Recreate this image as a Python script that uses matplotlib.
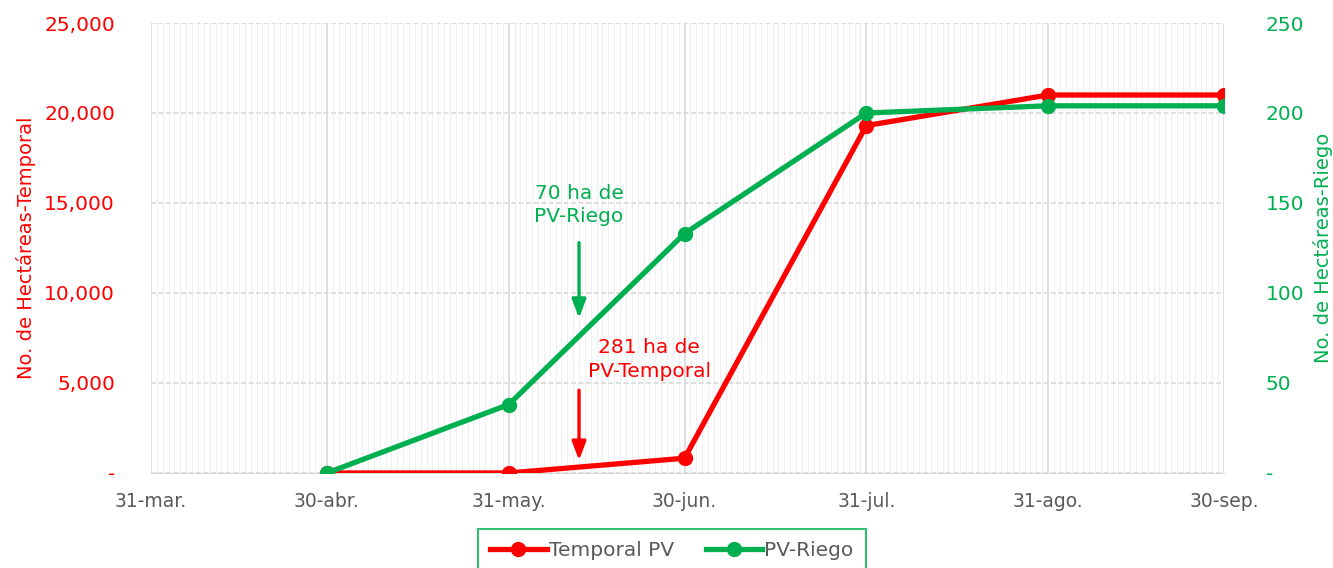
import matplotlib
matplotlib.use('Agg')
import matplotlib.pyplot as plt
import matplotlib.dates as mdates
from datetime import date

plt.rcParams['font.family'] = ['DejaVu Sans']

RED = '#FF0000'
GREEN = '#00B050'
GRAY = '#595959'

# data
fechas = [date(2023, 4, 30), date(2023, 5, 31), date(2023, 6, 30),
          date(2023, 7, 31), date(2023, 8, 31), date(2023, 9, 30)]
temporal = [0, 0, 820, 19300, 21000, 21000]
riego = [0, 38, 133, 200, 204, 204]

tick_dates = [date(2023, 3, 31), date(2023, 4, 30), date(2023, 5, 31), date(2023, 6, 30),
              date(2023, 7, 31), date(2023, 8, 31), date(2023, 9, 30)]
tick_labels = ['31-mar.', '30-abr.', '31-may.', '30-jun.', '31-jul.', '31-ago.', '30-sep.']

fig = plt.figure(figsize=(13.33, 5.68), dpi=100)
ax = fig.add_axes([0.1133, 0.1673, 0.8049, 0.7922])
ax2 = ax.twinx()

l1, = ax.plot(fechas, temporal, color=RED, lw=3.8, marker='o', ms=10, label='Temporal PV', zorder=3)
l2, = ax2.plot(fechas, riego, color=GREEN, lw=3.8, marker='o', ms=10, label='PV-Riego', zorder=3)

ax.set_xlim(mdates.date2num(tick_dates[0]), mdates.date2num(tick_dates[-1]))
ax.set_ylim(0, 25000)
ax2.set_ylim(0, 250)

ax.set_xticks(mdates.date2num(tick_dates))
ax.set_xticklabels(tick_labels)
ax.xaxis.set_minor_locator(mdates.DayLocator())

ax.set_yticks(range(0, 25001, 5000))
ax.set_yticklabels(['-'] + ['{:,}'.format(v) for v in range(5000, 25001, 5000)])
ax2.set_yticks(range(0, 251, 50))
ax2.set_yticklabels(['-'] + [str(v) for v in range(50, 251, 50)])

ax.grid(which='minor', axis='x', color='#F0F0F0', lw=0.8)
ax.grid(which='major', axis='x', color='#D9D9D9', lw=1.2)
ax.grid(which='major', axis='y', color='#D9D9D9', lw=1.2, ls=(0, (3, 1.5)))
ax.set_axisbelow(True)

for a in (ax, ax2):
    for s in a.spines.values():
        s.set_visible(False)
ax.spines['bottom'].set_visible(True)
ax.spines['bottom'].set_color('#D9D9D9')

ax.tick_params(axis='x', which='both', length=0, pad=14, labelsize=13.5, labelcolor=GRAY)
ax.tick_params(axis='y', length=0, pad=26, labelsize=14.5, labelcolor=RED)
ax2.tick_params(axis='y', length=0, pad=30, labelsize=14.5, labelcolor=GREEN)

ax.set_ylabel('No. de Hectáreas-Temporal', color=RED, fontsize=14, labelpad=6)
ax2.set_ylabel('No. de Hectáreas-Riego', color=GREEN, fontsize=14, labelpad=6)

# annotations
arrow_style = '-|>,head_length=0.8,head_width=0.3'
x_arrow = mdates.date2num(date(2023, 6, 12))
ax.annotate('', xy=(x_arrow, 8600), xytext=(x_arrow, 12800),
            arrowprops=dict(arrowstyle=arrow_style, color=GREEN, lw=2.4,
                            mutation_scale=14, shrinkA=0, shrinkB=0), zorder=4)
ax.text(x_arrow, 14900, '70 ha de\nPV-Riego', color=GREEN, fontsize=14.5,
        ha='center', va='center', linespacing=1.3)
ax.annotate('', xy=(x_arrow, 700), xytext=(x_arrow, 4600),
            arrowprops=dict(arrowstyle=arrow_style, color=RED, lw=2.4,
                            mutation_scale=14, shrinkA=0, shrinkB=0), zorder=4)
ax.text(mdates.date2num(date(2023, 6, 24)), 6300, '281 ha de\nPV-Temporal', color=RED, fontsize=14.5,
        ha='center', va='center', linespacing=1.3)

leg = fig.legend(handles=[l1, l2], loc='center', bbox_to_anchor=(0.504, 0.03), ncol=2,
                 fontsize=14.5, frameon=True, fancybox=False, handlelength=2.8,
                 borderpad=0.6, columnspacing=1.6, handletextpad=0.1)
leg.get_frame().set_edgecolor(GREEN)
leg.get_frame().set_linewidth(1.5)
for t in leg.get_texts():
    t.set_color(GRAY)

fig.savefig('out.png', dpi=100)
